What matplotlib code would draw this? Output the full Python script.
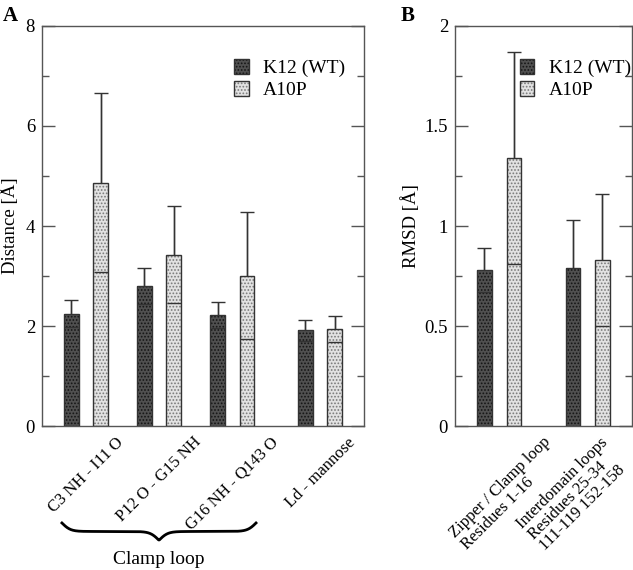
import numpy as np
import matplotlib
matplotlib.use("Agg")
import matplotlib.pyplot as plt
import matplotlib.transforms as mtransforms
from matplotlib.patches import Patch
from matplotlib.ticker import MultipleLocator, FormatStrFormatter

plt.rcParams['font.family'] = ['Liberation Serif', 'DejaVu Serif']
plt.rcParams['hatch.linewidth'] = 0.8

# Panel A: distances
dist_labels = ["C3 NH - I11 O", "P12 O - G15 NH", "G16 NH - Q143 O", "Ld - mannose"]
dist_wt = [2.25, 2.81, 2.22, 1.92]
dist_wt_err = [0.27, 0.36, 0.26, 0.21]
dist_a10p = [4.87, 3.43, 3.01, 1.94]
dist_a10p_err = [1.78, 0.97, 1.27, 0.26]

# Panel B: RMSD
rmsd_labels = ["Zipper / Clamp loop\nResidues 1-16",
               "Interdomain loops\nResidues 25-34\n111-119 152-158"]
rmsd_wt = [0.78, 0.79]
rmsd_wt_err = [0.11, 0.24]
rmsd_a10p = [1.34, 0.83]
rmsd_a10p_err = [0.53, 0.33]

series_names = ["K12 (WT)", "A10P"]

# styles
WT_FC, WT_HC = "#505050", "#151515"
MUT_FC, MUT_HC = "#e2e2e2", "#7a7a7a"
HATCH = "....."
EDGE = "#333333"
AXC = "#555555"


def draw_bars(ax, centers, wt, wt_err, mut, mut_err):
    centers = np.asarray(centers, dtype=float)
    for vals, errs, off, fc, hc in [(wt, wt_err, -0.5, WT_FC, WT_HC),
                                    (mut, mut_err, 0.5, MUT_FC, MUT_HC)]:
        x = centers + off
        ax.bar(x, vals, 0.5, color=fc, hatch=HATCH, edgecolor=hc, linewidth=0, zorder=2)
        ax.bar(x, vals, 0.5, fill=False, edgecolor=EDGE, linewidth=1, zorder=3)
        # whiskers behind the bar fill, caps on top
        _, caps, _ = ax.errorbar(x, vals, yerr=errs, fmt='none', ecolor=EDGE, elinewidth=1,
                                 capsize=5, capthick=1, zorder=1.5)
        for c in caps:
            c.set_zorder(4)
        ax.vlines(x, vals, np.asarray(vals) + np.asarray(errs), color=EDGE, lw=1, zorder=4)


def style_axis(ax, major, minor):
    ax.yaxis.set_major_locator(MultipleLocator(major))
    ax.yaxis.set_minor_locator(MultipleLocator(minor))
    ax.yaxis.set_major_formatter(FormatStrFormatter('%g'))
    ax.tick_params(axis='y', which='both', direction='in', left=True, right=True,
                   colors=AXC, labelcolor='black', labelsize=13.5, pad=5)
    ax.tick_params(axis='y', which='major', length=9.5, width=1)
    ax.tick_params(axis='y', which='minor', length=5, width=1)
    ax.tick_params(axis='x', length=0, labelsize=12, pad=6)
    for sp in ax.spines.values():
        sp.set_color(AXC)
        sp.set_linewidth(1)


def legend_handles():
    return [(Patch(facecolor=WT_FC, hatch=HATCH, edgecolor=WT_HC, linewidth=0),
             Patch(fill=False, edgecolor=EDGE, linewidth=1)),
            (Patch(facecolor=MUT_FC, hatch=HATCH, edgecolor=MUT_HC, linewidth=0),
             Patch(fill=False, edgecolor=EDGE, linewidth=1))]


fig = plt.figure(figsize=(6.33, 5.7), dpi=100)
ax_a = fig.add_axes([0.0664, 0.2526, 0.5087, 0.7018])
ax_b = fig.add_axes([0.7188, 0.2526, 0.2796, 0.7018])

# ---- Panel A
pos_a = [1.5, 4.0, 6.5, 9.5]
draw_bars(ax_a, pos_a, dist_wt, dist_wt_err, dist_a10p, dist_a10p_err)
ax_a.set_xlim(0, 11)
ax_a.set_ylim(0, 8)
style_axis(ax_a, 2, 1)
ax_a.set_xticks(pos_a)
ax_a.set_xticklabels(dist_labels, rotation=45, ha='center')
ax_a.set_ylabel("Distance [Å]", fontsize=13.5)
ax_a.yaxis.set_label_coords(-0.07, 0.5)
ax_a.legend(legend_handles(), series_names, loc='upper left',
            bbox_to_anchor=(0.542, 0.96), frameon=False, fontsize=14,
            handlelength=0.75, handleheight=0.75, handletextpad=0.75, labelspacing=0.2)

# ---- Panel B
pos_b = [1.5, 4.5]
draw_bars(ax_b, pos_b, rmsd_wt, rmsd_wt_err, rmsd_a10p, rmsd_a10p_err)
ax_b.set_xlim(0, 6)
ax_b.set_ylim(0, 2)
style_axis(ax_b, 0.5, 0.25)
ax_b.set_xticks([1.73, 4.03])
ax_b.set_xticklabels(rmsd_labels, rotation=45, ha='center', multialignment='left',
                     linespacing=1.0)
ax_b.set_ylabel("RMSD [Å]", fontsize=13.5)
ax_b.yaxis.set_label_coords(-0.195, 0.5)
ax_b.legend(legend_handles(), series_names, loc='upper left',
            bbox_to_anchor=(0.267, 0.96), frameon=False, fontsize=14,
            handlelength=0.75, handleheight=0.75, handletextpad=0.75, labelspacing=0.2)

# ---- Clamp loop brace under the first three labels
trans = mtransforms.blended_transform_factory(ax_a.transData, fig.transFigure)
s = np.linspace(0, 0.5, 150)
h = 1 / (1 + np.exp(-45 * s)) + 1 / (1 + np.exp(-45 * (s - 0.5)))
h = (h - h[0]) / (h[-1] - h[0])
h = np.concatenate([h, h[::-1]])
bx = np.linspace(0.68, 7.31, h.size)
by = 0.0825 - 0.0298 * h
ax_a.plot(bx, by, color='black', lw=2, transform=trans, clip_on=False)
fig.text(4.0, 0.018, "Clamp loop", transform=trans, ha='center', va='center', fontsize=14)

# panel letters
fig.text(0.004, 0.99, "A", fontsize=15, fontweight='bold', va='top')
fig.text(0.633, 0.99, "B", fontsize=15, fontweight='bold', va='top')

fig.savefig("out.png", dpi=100)
